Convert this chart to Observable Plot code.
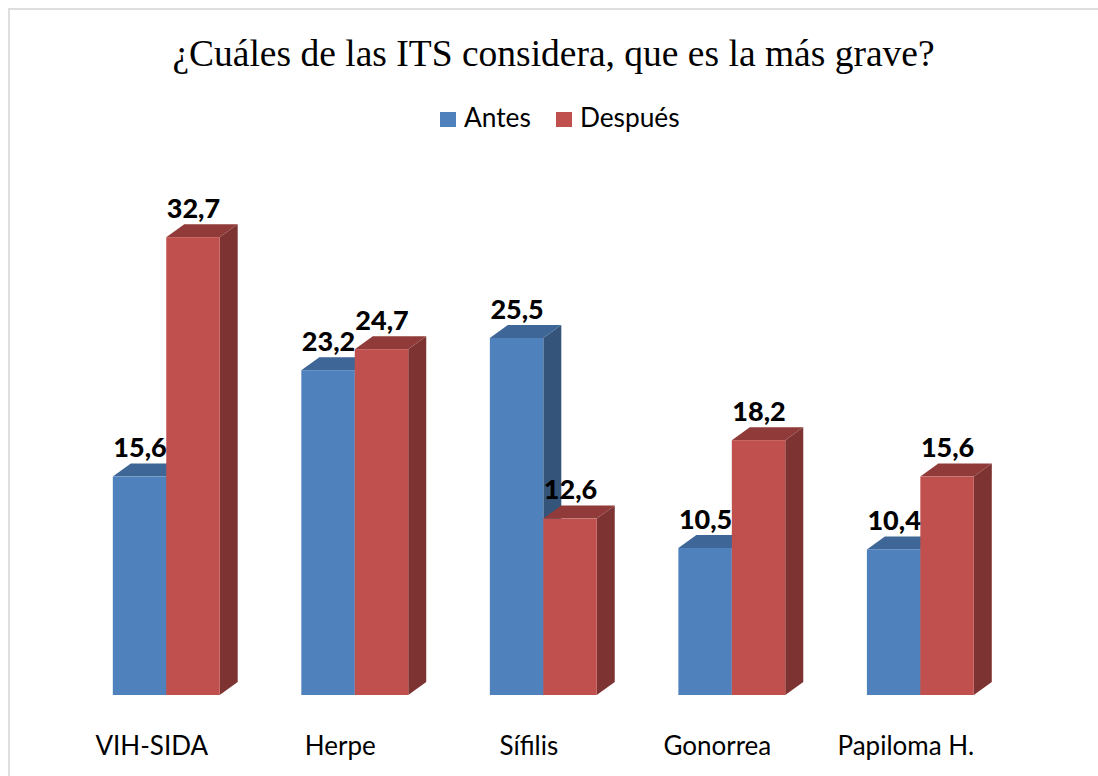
<!DOCTYPE html>
<html lang="es">
<head>
<meta charset="utf-8">
<script src="https://cdn.jsdelivr.net/npm/d3@7"></script>
<script src="https://cdn.jsdelivr.net/npm/@observablehq/plot@0.6"></script>
<style>
  html, body { margin: 0; padding: 0; background: #fff; overflow: hidden; width: 1098px; height: 776px; }
  #frame { position: absolute; left: 8px; top: 8px; width: 1100px; height: 790px; border: 2px solid #dedede; box-sizing: border-box; pointer-events: none; }
  #title { position: absolute; left: 0; top: 30px; width: 1107px; text-align: center; font: 37.5px "Liberation Serif", serif; color: #000; line-height: 48px; white-space: nowrap; }
  #legend { position: absolute; left: 440px; top: 100px; height: 34px; display: flex; align-items: center; font: 26.3px Lato, sans-serif; color: #000; }
  #legend i { display: inline-block; width: 16px; height: 15px; margin-right: 8px; }
  #legend span { margin-right: 25px; }
  #chart { position: absolute; left: 0; top: 140px; }
  #chart svg { display: block; }
</style>
</head>
<body>
<div id="frame"></div>
<div id="title">¿Cuáles de las ITS considera, que es la más grave?</div>
<div id="legend"></div>
<div id="chart"></div>
<script>
const categories = ["VIH-SIDA", "Herpe", "Sífilis", "Gonorrea", "Papiloma H."];
const seriesNames = ["Antes", "Después"];
const antes = [15.6, 23.2, 25.5, 10.5, 10.4];
const despues = [32.7, 24.7, 12.6, 18.2, 15.6];
const frontColors = ["#4f81bd", "#c0504d"];
const topColors = ["#3e6696", "#903b39"];
const sideColors = ["#345479", "#7d3331"];

const rows = categories.flatMap((c, i) => [
  {category: c, series: seriesNames[0], value: antes[i]},
  {category: c, series: seriesNames[1], value: despues[i]}
]);

const legend = document.getElementById("legend");
seriesNames.forEach((s, i) => {
  const item = document.createElement("span");
  item.innerHTML = `<i style="background:${frontColors[i]}"></i>${s}`;
  legend.appendChild(item);
});

const depthX = 18, depthY = 13;
const SVGNS = "http://www.w3.org/2000/svg";

// 3D faces are derived from each bar rectangle that the scales produced
function extrude(index, scales, values, dimensions, context, next) {
  const g = next(index, scales, values, dimensions, context);
  g.querySelectorAll("rect").forEach(r => {
    const x = +r.getAttribute("x"), y = +r.getAttribute("y");
    const w = +r.getAttribute("width"), h = +r.getAttribute("height");
    const s = frontColors.indexOf(r.getAttribute("fill"));
    const add = (pts, color) => {
      const p = document.createElementNS(SVGNS, "polygon");
      p.setAttribute("points", pts.map(d => d.join(",")).join(" "));
      p.setAttribute("fill", color);
      r.parentNode.insertBefore(p, r);
    };
    add([[x + w, y], [x + w + depthX, y - depthY], [x + w + depthX, y + h - depthY], [x + w, y + h]], sideColors[s]);
    add([[x, y], [x + depthX, y - depthY], [x + w + depthX, y - depthY], [x + w, y]], topColors[s]);
  });
  return g;
}

const comma = v => v.toFixed(1).replace(".", ",");

const plot = Plot.plot({
  width: 1098,
  height: 630,
  marginTop: 65,
  marginBottom: 75,
  marginLeft: 72,
  marginRight: 83.4,
  style: {fontFamily: "Lato, sans-serif", background: "transparent", overflow: "visible"},
  fx: {domain: categories, axis: null, paddingInner: 0.433, paddingOuter: 0.2165, round: false},
  x: {domain: seriesNames, axis: null, paddingInner: 0, paddingOuter: 0, round: false},
  y: {domain: [0, 35], axis: null},
  color: {domain: seriesNames, range: frontColors},
  marks: [
    Plot.barY(rows, {fx: "category", x: "series", y: "value", fill: "series", render: extrude}),
    Plot.text(rows, {fx: "category", x: "series", y: "value", text: d => comma(d.value), dy: -20, lineAnchor: "bottom", fontSize: 27, fontWeight: 900, fill: "#000"}),
    Plot.text(categories, {fx: d => d, text: d => d, frameAnchor: "bottom", lineAnchor: "bottom", dx: -15, dy: 59, fontSize: 26, fill: "#000"})
  ]
});
document.getElementById("chart").appendChild(plot);
</script>
</body>
</html>
